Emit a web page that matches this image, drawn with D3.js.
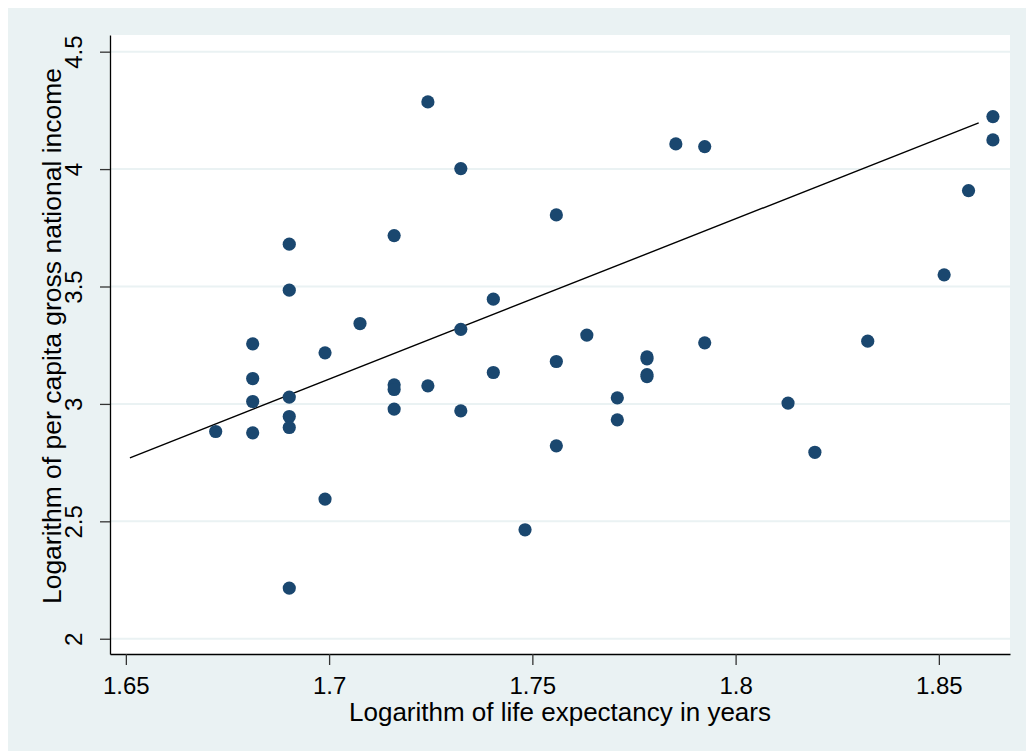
<!DOCTYPE html>
<html>
<head>
<meta charset="utf-8">
<script src="https://cdn.jsdelivr.net/npm/d3@7"></script>
<style>
  body { margin: 0; background: #fff; }
  text { font-family: "Liberation Sans", Arial, sans-serif; fill: #000; }
</style>
</head>
<body>
<svg id="chart" width="1026" height="751"></svg>
<script>
// log10 life expectancy and log10 per capita GNI
var lifeExp = [
  1.6721,
  1.6812, 1.6812, 1.6812, 1.6812,
  1.6902, 1.6902, 1.6902, 1.6902, 1.6902, 1.6902,
  1.6990, 1.6990,
  1.7076,
  1.7160, 1.7160, 1.7160, 1.7160,
  1.7243, 1.7243,
  1.7324, 1.7324, 1.7324,
  1.7404, 1.7404,
  1.7482,
  1.7559, 1.7559, 1.7559,
  1.7634,
  1.7709, 1.7709,
  1.7782, 1.7782, 1.7782, 1.7782,
  1.7853,
  1.7924, 1.7924,
  1.8129,
  1.8195,
  1.8325,
  1.8513,
  1.8573,
  1.8633, 1.8633
];
var income = [
  2.8825,
  3.2559, 3.1081, 3.0102, 2.8770,
  3.6803, 3.4845, 3.0290, 2.9464, 2.8995, 2.2158,
  3.2175, 2.5947,
  3.3423,
  3.7169, 3.0813, 3.0613, 2.9779,
  4.2861, 3.0771,
  4.0021, 3.3176, 2.9706,
  3.4462, 3.1337,
  2.4640,
  3.8050, 3.1805, 2.8216,
  3.2930,
  3.0260, 2.9323,
  3.2005, 3.1920, 3.1250, 3.1165,
  4.1073,
  4.0958, 3.2601,
  3.0034,
  2.7940,
  3.2673,
  3.5496,
  3.9085,
  4.2235, 4.1243
];
// linear fit end points
var fitX = [1.6510, 1.8598];
var fitY = [2.7706, 4.1967];

var xTicks = [1.65, 1.7, 1.75, 1.8, 1.85];
var yTicks = [2, 2.5, 3, 3.5, 4, 4.5];

var svg = d3.select("#chart");
var plot = {left: 110, top: 35, right: 1010, bottom: 654};

var x = d3.scaleLinear()
    .domain([1.6461, 1.8675])
    .range([plot.left, plot.right]);
var y = d3.scaleLinear()
    .domain([1.935, 4.571])
    .range([plot.bottom, plot.top]);

// outer background
svg.append("rect")
    .attr("x", 8).attr("y", 8)
    .attr("width", 1018).attr("height", 743)
    .attr("fill", "#eaf2f3");

svg.append("rect")
    .attr("x", plot.left).attr("y", plot.top)
    .attr("width", plot.right - plot.left)
    .attr("height", plot.bottom - plot.top)
    .attr("fill", "#fff");

// grid
svg.append("g")
  .selectAll("line")
  .data(yTicks)
  .enter().append("line")
    .attr("x1", plot.left).attr("x2", plot.right)
    .attr("y1", function(d) { return y(d); })
    .attr("y2", function(d) { return y(d); })
    .attr("stroke", "#eaf2f3")
    .attr("stroke-width", 2);

// axes
var xAxis = svg.append("g")
    .attr("transform", "translate(0," + plot.bottom + ")")
    .call(d3.axisBottom(x).tickValues(xTicks).tickSize(11).tickSizeOuter(0)
      .tickFormat(function(d) { return d3.format("")(d); }));
xAxis.select(".domain").attr("stroke", "#000").attr("stroke-width", 1.3);
xAxis.selectAll(".tick line").attr("stroke", "#333").attr("stroke-width", 1.3);
xAxis.selectAll(".tick text")
    .attr("y", 40).attr("dy", 0)
    .style("font-size", "24px");

var yAxis = svg.append("g")
    .attr("transform", "translate(" + plot.left + ",0)")
    .call(d3.axisLeft(y).tickValues(yTicks).tickSize(10).tickSizeOuter(0)
      .tickFormat(function(d) { return d3.format("")(d); }));
yAxis.select(".domain").attr("stroke", "#000").attr("stroke-width", 1.3);
yAxis.selectAll(".tick line").attr("stroke", "#333").attr("stroke-width", 1.3);
yAxis.selectAll(".tick text")
    .attr("x", null).attr("dy", 0)
    .attr("text-anchor", "middle")
    .attr("transform", "translate(-28,0) rotate(-90)")
    .style("font-size", "24px");

// fit line
svg.append("line")
    .attr("x1", x(fitX[0])).attr("y1", y(fitY[0]))
    .attr("x2", x(fitX[1])).attr("y2", y(fitY[1]))
    .attr("stroke", "#000")
    .attr("stroke-width", 1.4);

// points
svg.append("g")
  .selectAll("circle")
  .data(lifeExp)
  .enter().append("circle")
    .attr("cx", function(d) { return x(d); })
    .attr("cy", function(d, i) { return y(income[i]); })
    .attr("r", 6.6)
    .attr("fill", "#1a476f");

// titles
svg.append("text")
    .attr("x", 560).attr("y", 721)
    .attr("text-anchor", "middle")
    .style("font-size", "26px")
    .text("Logarithm of life expectancy in years");

svg.append("text")
    .attr("transform", "translate(61,336) rotate(-90)")
    .attr("text-anchor", "middle")
    .style("font-size", "26.5px")
    .text("Logarithm of per capita gross national income");
</script>
</body>
</html>
